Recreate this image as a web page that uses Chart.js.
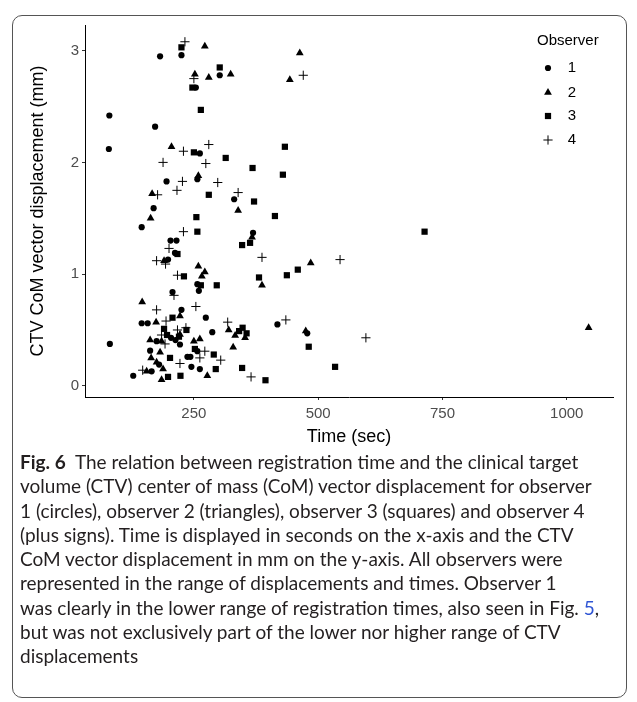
<!DOCTYPE html>
<html><head><meta charset="utf-8">
<script src="https://cdn.jsdelivr.net/npm/chart.js@4/dist/chart.umd.min.js"></script>
<style>
html,body{margin:0;padding:0;background:#fff;}
#wrap{position:relative;width:637px;height:702px;overflow:hidden;background:#fff;}
#box{position:absolute;left:12px;top:15px;width:615px;height:683px;border:1px solid #555;border-radius:10px;box-sizing:border-box;}
#cv{position:absolute;left:0;top:0;}
#cap{position:absolute;left:20px;top:450px;font-family:Lato,"Open Sans",sans-serif;font-size:16.5px;line-height:24.3px;color:#231f20;white-space:nowrap;}
#cap b{font-weight:700;}
#cap .lk{color:#2f55d4;}
</style>
</head><body>
<div id="wrap">
<div id="box"></div>
<canvas id="cv" width="637" height="460"></canvas>
<div id="cap">
<div id="l1"><b>Fig. 6</b>&nbsp; The relation between registration time and the clinical target</div>
<div>volume (CTV) center of mass (CoM) vector displacement for observer</div>
<div>1 (circles), observer 2 (triangles), observer 3 (squares) and observer 4</div>
<div>(plus signs). Time is displayed in seconds on the x-axis and the CTV</div>
<div>CoM vector displacement in mm on the y-axis. All observers were</div>
<div>represented in the range of displacements and times. Observer 1</div>
<div>was clearly in the lower range of registration times, also seen in Fig. <span class="lk">5</span>,</div>
<div>but was not exclusively part of the lower nor higher range of CTV</div>
<div>displacements</div>
</div>
</div>
<script>
// ---- data ----
const observers = ["1", "2", "3", "4"];
const obs1Time = [182,225,302,254,80,172,79,262,257,195,331,169,145,369,203,215,212,198,257,260,207,225,274,145,157,287,204,213,175,222,81,162,257,237,243,180,245,262,165,128,418,478];
const obs1Disp = [2.95,2.96,2.78,2.67,2.42,2.32,2.12,2.08,1.85,1.83,1.67,1.59,1.42,1.37,1.30,1.30,1.19,1.13,0.91,0.85,0.84,0.68,0.61,0.56,0.56,0.48,0.43,0.41,0.40,0.37,0.375,0.315,0.31,0.26,0.26,0.19,0.17,0.15,0.13,0.09,0.55,0.47];
const obs2Time = [272,252,280,324,205,463,443,259,166,339,163,367,190,259,272,266,387,146,222,174,320,333,353,222,162,185,250,262,329,182,164,175,188,155,185,277,485,475,1044];
const obs2Disp = [3.04,2.79,2.76,2.79,2.14,2.98,2.74,1.88,1.72,1.57,1.50,1.33,1.12,1.07,1.02,0.98,0.90,0.75,0.625,0.57,0.50,0.45,0.43,0.46,0.41,0.40,0.40,0.42,0.345,0.30,0.25,0.21,0.15,0.13,0.055,0.09,1.10,0.49,0.52];
const obs3Time = [225,302,247,264,250,314,368,280,371,255,257,363,347,217,230,381,264,296,207,235,190,348,341,356,196,220,252,290,202,294,347,198,223,394,433,429,413,714,459,437,481,534];
const obs3Disp = [3.03,2.85,2.67,2.47,2.09,2.04,1.95,1.71,1.65,1.51,1.38,1.28,1.26,1.18,0.98,0.97,0.90,0.90,0.61,0.50,0.51,0.52,0.49,0.47,0.455,0.44,0.33,0.28,0.25,0.15,0.16,0.08,0.09,0.05,2.14,1.89,1.52,1.38,1.04,0.99,0.35,0.17];
const obs4Time = [232,250,229,280,188,274,227,298,216,177,339,229,200,387,175,193,217,210,254,175,194,318,234,217,185,192,272,262,222,304,147,365,470,544,435,596];
const obs4Disp = [3.08,2.75,2.10,2.16,2.00,1.99,1.83,1.82,1.75,1.71,1.73,1.38,1.23,1.15,1.12,1.09,0.99,0.81,0.71,0.68,0.58,0.57,0.52,0.50,0.455,0.375,0.31,0.25,0.20,0.23,0.14,0.08,2.78,1.13,0.59,0.43];
const xTicks = [250, 500, 750, 1000];
const yTicks = [0, 1, 2, 3];

const FONT = '"Liberation Sans", Arial, Helvetica, sans-serif';
const styles = [
  {pointStyle:'circle', radius:3.1, borderWidth:0},
  {pointStyle:'triangle', radius:4.5, borderWidth:0},
  {pointStyle:'rect', radius:4.4, borderWidth:0},
  {pointStyle:'cross', radius:4.6, borderWidth:1}
];
const series = [[obs1Time,obs1Disp],[obs2Time,obs2Disp],[obs3Time,obs3Disp],[obs4Time,obs4Disp]];
const datasets = series.map((s,i)=>({
  label: observers[i],
  data: s[0].map((t,j)=>({x:t,y:s[1][j]})),
  pointStyle: styles[i].pointStyle,
  pointRadius: styles[i].radius,
  pointBorderWidth: styles[i].borderWidth,
  backgroundColor:'#000',
  borderColor:'#000',
  showLine:false
}));

const legendPlugin = {
  id:'obsLegend',
  afterDraw(chart){
    const ctx = chart.ctx;
    ctx.save();
    ctx.fillStyle = '#000';
    ctx.font = '15px ' + FONT;
    ctx.textBaseline = 'middle';
    ctx.textAlign = 'left';
    ctx.fillText('Observer', 537, 41);
    const ys = [68, 92.5, 116, 140];
    ctx.font = '15px ' + FONT;
    observers.forEach((o,i)=>{
      ctx.fillStyle = '#000'; ctx.strokeStyle = '#000';
      ctx.lineWidth = styles[i].borderWidth || 1;
      Chart.helpers.drawPoint(ctx, {pointStyle:styles[i].pointStyle, radius:styles[i].radius, borderWidth:styles[i].borderWidth, rotation:0}, 548, ys[i]);
      ctx.fillStyle = '#000';
      ctx.textAlign = 'center';
      ctx.fillText(o, 572, ys[i]);
    });
    ctx.restore();
  }
};

new Chart(document.getElementById('cv'), {
  type:'scatter',
  data:{datasets},
  options:{
    responsive:false, animation:false, events:[],
    layout:{padding:{left:0, top:25, right:24, bottom:0}},
    plugins:{legend:{display:false}, tooltip:{enabled:false}},
    scales:{
      x:{
        type:'linear', min:31, max:1093,
        afterBuildTicks(s){ s.ticks = xTicks.map(v=>({value:v})); },
        afterFit(s){ s.height = 63; },
        ticks:{font:{family:FONT,size:15}, color:'#4d4d4d', padding:5, maxRotation:0, callback:v=>String(v)},
        grid:{display:true, drawOnChartArea:false, drawTicks:true, tickLength:3, color:'#333'},
        border:{display:true, color:'#000', width:1},
        title:{display:true, text:'Time (sec)', font:{family:FONT,size:18}, color:'#000', padding:{top:0,bottom:12}}
      },
      y:{
        type:'linear', min:-0.1, max:3.23,
        afterBuildTicks(s){ s.ticks = yTicks.map(v=>({value:v})); },
        afterFit(s){ s.width = 85; },
        ticks:{font:{family:FONT,size:15}, color:'#4d4d4d', padding:3, callback:v=>String(v)},
        grid:{display:true, drawOnChartArea:false, drawTicks:true, tickLength:3, color:'#333'},
        border:{display:true, color:'#000', width:1},
        title:{display:true, text:'CTV CoM vector displacement (mm)', font:{family:FONT,size:18}, color:'#000', padding:{top:27,bottom:0}}
      }
    }
  },
  plugins:[legendPlugin]
});

// fit caption font so first line spans the reference width
(function(){
  const cap = document.getElementById('cap');
  const l1 = document.getElementById('l1');
  const sp = document.createElement('span');
  sp.innerHTML = l1.innerHTML; l1.innerHTML=''; l1.appendChild(sp);
  const w = sp.getBoundingClientRect().width;
  let fs = 16.5 * 592 / w;
  fs = Math.max(14, Math.min(19, fs));
  cap.style.fontSize = fs + 'px';
})();
</script>
</body></html>
